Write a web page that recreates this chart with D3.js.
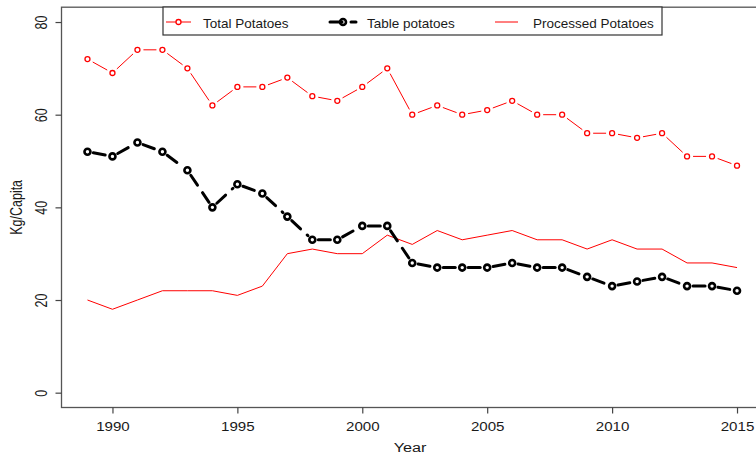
<!DOCTYPE html>
<html>
<head>
<meta charset="utf-8">
<script src="https://cdn.jsdelivr.net/npm/d3@7"></script>
<style>
  body { margin: 0; background: #fff; }
  svg { display: block; }
  text { font-family: "Liberation Sans", Arial, sans-serif; fill: #1a1a1a; }
</style>
</head>
<body>
<svg id="chart" width="756" height="457"></svg>
<script>
// Per-capita potato consumption (kg), 1989-2015
const years = [1989, 1990, 1991, 1992, 1993, 1994, 1995, 1996, 1997, 1998, 1999, 2000, 2001, 2002,
               2003, 2004, 2005, 2006, 2007, 2008, 2009, 2010, 2011, 2012, 2013, 2014, 2015];
const totalPotatoes     = [72, 69, 74, 74, 70, 62, 66, 66, 68, 64, 63, 66, 70, 60,
                           62, 60, 61, 63, 60, 60, 56, 56, 55, 56, 51, 51, 49];
const tablePotatoes     = [52, 51, 54, 52, 48, 40, 45, 43, 38, 33, 33, 36, 36, 28,
                           27, 27, 27, 28, 27, 27, 25, 23, 24, 25, 23, 23, 22];
const processedPotatoes = [20, 18, 20, 22, 22, 22, 21, 23, 30, 31, 30, 30, 34, 32,
                           35, 33, 34, 35, 33, 33, 31, 33, 31, 31, 28, 28, 27];
const seriesNames = ["Total Potatoes", "Table potatoes", "Processed Potatoes"];
const xTicks = [1990, 1995, 2000, 2005, 2010, 2015];
const yTicks = [0, 20, 40, 60, 80];
const xTitle = "Year";
const yTitle = "Kg/Capita";

const RED = "#ff0000";
const svg = d3.select("#chart");

// R-style 4% padding around the data range
const x = d3.scaleLinear().domain([1987.96, 2016.04]).range([61.5, 763]);
const y = d3.scaleLinear().domain([-3.2, 83.2]).range([407.5, 7.2]);

// plot frame
svg.append("rect")
  .attr("x", x.range()[0]).attr("y", y.range()[1])
  .attr("width", x.range()[1] - x.range()[0])
  .attr("height", y.range()[0] - y.range()[1])
  .attr("fill", "none").attr("stroke", "#555").attr("stroke-width", 1.3);

// y axis
const gy = svg.append("g")
  .attr("transform", `translate(${x.range()[0]},0)`)
  .call(d3.axisLeft(y).tickValues(yTicks).tickSize(6).tickFormat(d3.format("d")));
gy.select(".domain").remove();
gy.selectAll(".tick line").attr("stroke", "#444").attr("stroke-width", 1.2);
gy.selectAll(".tick text")
  .attr("x", null).attr("dy", null)
  .attr("text-anchor", "middle")
  .attr("font-size", 12.5)
  .attr("font-family", null)
  .attr("transform", "translate(-15,0) scale(1.3,1) rotate(-90)");

// x axis
const gx = svg.append("g")
  .attr("transform", `translate(0,${y.range()[0]})`)
  .call(d3.axisBottom(x).tickValues(xTicks).tickSize(6).tickFormat(d3.format("d")));
gx.select(".domain").remove();
gx.selectAll(".tick line").attr("stroke", "#444").attr("stroke-width", 1.2);
gx.selectAll(".tick text")
  .attr("y", null).attr("dy", null)
  .attr("text-anchor", "middle")
  .attr("font-size", 13.5)
  .attr("font-family", null)
  .attr("transform", "translate(0,23) scale(1.12,1)");

// axis titles
svg.append("text")
  .attr("transform", "translate(410,452) scale(1.2,1)")
  .attr("text-anchor", "middle").attr("font-size", 13.5)
  .text(xTitle);
svg.append("text")
  .attr("transform", `translate(21.5,${(y.range()[0] + y.range()[1]) / 2}) scale(1.3,1) rotate(-90)`)
  .attr("text-anchor", "middle").attr("font-size", 12.5)
  .text(yTitle);

// segments between consecutive points, trimmed back from each point ("b" style)
function gappedSegments(values, gap) {
  const pts = years.map((yr, i) => [x(yr), y(values[i])]);
  const segs = [];
  for (let i = 0; i < pts.length - 1; i++) {
    const [x0, y0] = pts[i], [x1, y1] = pts[i + 1];
    const dx = x1 - x0, dy = y1 - y0, len = Math.hypot(dx, dy);
    if (len <= 2 * gap) continue;
    const ux = dx / len, uy = dy / len;
    segs.push([x0 + ux * gap, y0 + uy * gap, x1 - ux * gap, y1 - uy * gap]);
  }
  return segs;
}

// processed potatoes: plain red line
svg.append("path")
  .datum(processedPotatoes)
  .attr("fill", "none").attr("stroke", RED).attr("stroke-width", 1)
  .attr("d", d3.line().x((d, i) => x(years[i])).y(d => y(d)));

// total potatoes: thin red line with open circles
svg.append("g").selectAll("line")
  .data(gappedSegments(totalPotatoes, 6))
  .join("line")
  .attr("x1", d => d[0]).attr("y1", d => d[1]).attr("x2", d => d[2]).attr("y2", d => d[3])
  .attr("stroke", RED).attr("stroke-width", 1);
svg.append("g").selectAll("circle")
  .data(totalPotatoes)
  .join("circle")
  .attr("cx", (d, i) => x(years[i])).attr("cy", d => y(d)).attr("r", 2.5)
  .attr("fill", "none").attr("stroke", RED).attr("stroke-width", 1.3);

// table potatoes: thick black dashed line with heavy circles
svg.append("g").selectAll("line")
  .data(gappedSegments(tablePotatoes, 6))
  .join("line")
  .attr("x1", d => d[0]).attr("y1", d => d[1]).attr("x2", d => d[2]).attr("y2", d => d[3])
  .attr("stroke", "#000").attr("stroke-width", 3)
  .attr("stroke-linecap", "round").attr("stroke-dasharray", "12 9");
svg.append("g").selectAll("circle")
  .data(tablePotatoes)
  .join("circle")
  .attr("cx", (d, i) => x(years[i])).attr("cy", d => y(d)).attr("r", 3)
  .attr("fill", "none").attr("stroke", "#000").attr("stroke-width", 2.6);

// legend
const lg = svg.append("g");
lg.append("rect")
  .attr("x", 163).attr("y", 7).attr("width", 499).attr("height", 28)
  .attr("fill", "#fff").attr("stroke", "#333").attr("stroke-width", 1.2);
const ly = 22;
const legendItems = [
  { name: seriesNames[0], x0: 166, x1: 191, tx: 203 },
  { name: seriesNames[1], x0: 330, x1: 356, tx: 367 },
  { name: seriesNames[2], x0: 495, x1: 518, tx: 533 }
];
// total
lg.append("line").attr("x1", legendItems[0].x0).attr("x2", legendItems[0].x1)
  .attr("y1", ly).attr("y2", ly).attr("stroke", RED).attr("stroke-width", 1);
lg.append("circle").attr("cx", (legendItems[0].x0 + legendItems[0].x1) / 2).attr("cy", ly).attr("r", 2.5)
  .attr("fill", "#fff").attr("stroke", RED).attr("stroke-width", 1.3);
// table
lg.append("line").attr("x1", legendItems[1].x0).attr("x2", legendItems[1].x1)
  .attr("y1", ly).attr("y2", ly).attr("stroke", "#000").attr("stroke-width", 3)
  .attr("stroke-linecap", "round").attr("stroke-dasharray", "12 9");
lg.append("circle").attr("cx", (legendItems[1].x0 + legendItems[1].x1) / 2).attr("cy", ly).attr("r", 3)
  .attr("fill", "none").attr("stroke", "#000").attr("stroke-width", 2.6);
// processed
lg.append("line").attr("x1", legendItems[2].x0).attr("x2", legendItems[2].x1)
  .attr("y1", ly).attr("y2", ly).attr("stroke", RED).attr("stroke-width", 1);
lg.selectAll("text.lab")
  .data(legendItems)
  .join("text")
  .attr("class", "lab")
  .attr("x", d => d.tx).attr("y", ly + 5.5)
  .attr("font-size", 13.5)
  .text(d => d.name);
</script>
</body>
</html>
